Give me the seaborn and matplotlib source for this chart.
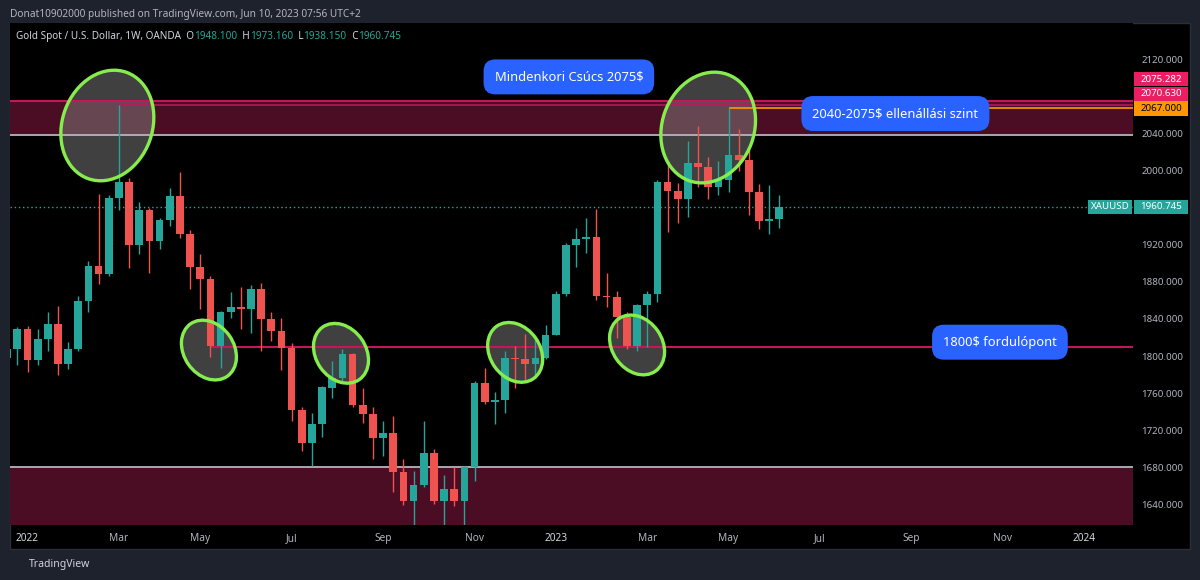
import numpy as np
import pandas as pd
import matplotlib
matplotlib.use("Agg")
import matplotlib.pyplot as plt
import matplotlib.dates as mdates
from matplotlib.patches import Ellipse, Rectangle
from matplotlib.transforms import IdentityTransform, blended_transform_factory
import seaborn as sns

# weekly XAUUSD candles (OANDA), first bar = week of 2021-12-20
start_week = "2021-12-20"
opens = [1798, 1808, 1829, 1796, 1818, 1835, 1791, 1808, 1859, 1897,
         1889, 1970, 1988, 1920, 1958, 1924, 1947, 1973, 1932, 1896,
         1883, 1811, 1847, 1853, 1851, 1872, 1840, 1827, 1809, 1742,
         1706, 1727, 1766, 1776, 1802, 1747, 1738, 1712, 1717, 1675,
         1644, 1661, 1695, 1644, 1657, 1644, 1680, 1771, 1750, 1753,
         1798, 1797, 1792, 1798, 1823, 1867, 1920, 1926, 1928, 1865,
         1864, 1842, 1811, 1855, 1867, 1988, 1978, 1969, 2008, 2004,
         1982, 1990, 2017, 2011, 1977, 1946, 1948.1]
highs = [1812, 1831, 1832, 1829, 1848, 1854, 1815, 1865, 1902, 1975,
         1974, 2070.6, 1992, 1966, 1960, 1949, 1981, 1999, 1936, 1910,
         1886, 1849, 1869, 1874, 1877, 1879, 1847, 1841, 1814, 1745,
         1739, 1768, 1795, 1808, 1803, 1766, 1745, 1730, 1735, 1689,
         1676, 1730, 1700, 1672, 1680, 1682, 1773, 1787, 1761, 1805,
         1811, 1824, 1822, 1834, 1870, 1922, 1938, 1949, 1959, 1890,
         1870, 1847, 1856, 1870, 1990, 2010, 1987, 2032, 2048, 2015,
         2010, 2067, 2045, 2022, 1985, 1984, 1973.16]
lows = [1789, 1790, 1783, 1790, 1805, 1780, 1786, 1806, 1848, 1878,
        1886, 1958, 1895, 1910, 1890, 1915, 1940, 1927, 1872, 1851,
        1799, 1787, 1841, 1829, 1825, 1805, 1816, 1785, 1730, 1698,
        1681, 1713, 1755, 1773, 1745, 1728, 1689, 1692, 1654, 1639,
        1614, 1659, 1641, 1617, 1638, 1616, 1665, 1748, 1727, 1739,
        1766, 1774, 1780, 1797, 1823, 1865, 1896, 1911, 1861, 1853,
        1819, 1808, 1805, 1810, 1858, 1934, 1944, 1950, 1982, 1969,
        1974, 1977, 2000, 1952, 1937, 1932, 1938.15]
closes = [1808, 1829, 1796, 1818, 1835, 1791, 1808, 1859, 1897, 1889,
          1970, 1988, 1920, 1958, 1924, 1947, 1973, 1932, 1896, 1883,
          1811, 1847, 1853, 1851, 1872, 1840, 1827, 1809, 1742, 1706,
          1727, 1767, 1776, 1802, 1747, 1738, 1712, 1717, 1675, 1644,
          1661, 1695, 1644, 1657, 1644, 1680, 1771, 1750, 1753, 1798,
          1797, 1792, 1798, 1823, 1867, 1920, 1926, 1928, 1865, 1864,
          1842, 1811, 1855, 1867, 1988, 1978, 1969, 2008, 2004, 1982,
          1990, 2017, 2011, 1977, 1946, 1948, 1960.745]

# drawn levels
ath_level = 2075.282
mar22_high = 2070.63
may23_high = 2067.0
zone_bottom = 2038
pivot_level = 1810
support_top = 1680
last_price = 1960.745
level_starts = {"mar22": "2022-03-07", "pivot": "2022-05-09", "may23": "2023-05-01"}

price_ticks = [1640, 1680, 1720, 1760, 1800, 1840, 1880, 1920, 2000, 2040, 2120]
time_tick_dates = ["2022-01-03", "2022-03-07", "2022-05-02", "2022-07-04", "2022-09-05",
                   "2022-11-07", "2023-01-02", "2023-03-06", "2023-05-01", "2023-07-03",
                   "2023-09-04", "2023-11-06", "2024-01-01"]
time_tick_labels = ["2022", "Mar", "May", "Jul", "Sep", "Nov", "2023",
                    "Mar", "May", "Jul", "Sep", "Nov", "2024"]

notes = [("Mindenkori Csúcs 2075$", "2023-01-11", 2101),
         ("2040-2075$ ellenállási szint", "2023-08-24", 2061.5),
         ("1800$ fordulópont", "2023-11-04", 1815)]
# highlighted areas: centre date, centre price, width px, height px, angle
circles = [("2022-02-27", 2048.6, 113, 90, 70),
           ("2022-05-08", 1806.5, 64, 50, -55),
           ("2022-08-07", 1803, 64, 50, -55),
           ("2022-12-05", 1804, 64, 50, -55),
           ("2023-02-27", 1812, 64, 50, -55),
           ("2023-04-17", 2046.4, 113, 92, 70)]

BG = "#1e222d"
TEAL = "#26a69a"
RED = "#ef5350"
PINK = "#c2185b"
TAGPINK = "#e91e63"
ORANGE = "#ff9800"
ZONE = "#4a0d23"
GRAY = "#b2b5be"
BLUE = "#2962ff"
LIME = "#86ee4c"

sns.set_theme(style="dark", rc={"axes.facecolor": "black", "figure.facecolor": BG})
plt.rcParams["font.family"] = ["Noto Sans", "DejaVu Sans"]

W, H = 1200, 580
fig = plt.figure(figsize=(12, 5.8), dpi=100)
fig.patch.set_facecolor(BG)
fig.add_artist(Rectangle((10 / W, 31 / H), 1180 / W, 526 / H, transform=fig.transFigure,
                         facecolor="black", edgecolor="#2a2e39", lw=1, zorder=-1))
AX_W = 1123
ax = fig.add_axes([10 / W, 55 / H, AX_W / W, 502 / H])
ax.set_facecolor("black")

d0 = mdates.date2num(pd.Timestamp("2022-01-03"))
ax.set_xlim(d0 - 12.06, d0 + 761.7)
ax.set_ylim(1617.9, 2159.1)
px_price = (2159.1 - 1617.9) / 502
xmax = ax.get_xlim()[1]

df = pd.DataFrame({"date": pd.date_range(start_week, periods=len(opens), freq="W-MON"),
                   "open": opens, "high": highs, "low": lows, "close": closes})
df["x"] = mdates.date2num(df["date"])
colors = np.where(df["close"] >= df["open"], TEAL, RED)
body = (df["close"] - df["open"]).abs().clip(lower=1.2)
ax.vlines(df["x"], df["low"], df["high"], colors=colors, lw=1, zorder=4)
ax.bar(df["x"], body, bottom=df[["open", "close"]].min(axis=1), width=5.3,
       color=colors, linewidth=0, zorder=5)

# zones and levels
ax.axhspan(zone_bottom, ath_level, color=ZONE, lw=0, zorder=1)
ax.axhspan(1600, support_top, color=ZONE, lw=0, zorder=1)
ax.axhline(ath_level, color=PINK, lw=1.5, zorder=3)
ax.axhline(zone_bottom, color=GRAY, lw=1.3, zorder=3)
ax.axhline(support_top, color=GRAY, lw=1.3, zorder=3)
ax.hlines(mar22_high, mdates.date2num(pd.Timestamp(level_starts["mar22"])), xmax,
          color=PINK, lw=1.1, zorder=3)
ax.hlines(pivot_level, mdates.date2num(pd.Timestamp(level_starts["pivot"])), xmax,
          color=PINK, lw=1.5, zorder=3)
ax.hlines(may23_high, mdates.date2num(pd.Timestamp(level_starts["may23"])), xmax,
          color=ORANGE, lw=1.2, zorder=3)
ax.axhline(last_price, color=TEAL, lw=1, ls=(0, (1, 2)), zorder=3)

# ellipses in pixel units around data centres
for dt, pr, w, h, ang in circles:
    cx, cy = ax.transData.transform((mdates.date2num(pd.Timestamp(dt)), pr))
    ax.add_patch(Ellipse((cx, cy), w, h, angle=ang, transform=IdentityTransform(),
                         facecolor="#808080", alpha=0.5, lw=0, zorder=2))
    ax.add_patch(Ellipse((cx, cy), w, h, angle=ang, transform=IdentityTransform(),
                         facecolor="none", edgecolor=LIME, lw=2.4, zorder=6))

for txt, dt, pr in notes:
    ax.text(mdates.date2num(pd.Timestamp(dt)), pr, txt, ha="center", va="center",
            color="white", fontsize=9.3, zorder=8,
            bbox=dict(boxstyle="round,pad=0.85,rounding_size=0.9", fc=BLUE, ec="none"))

# price tags on the right scale
trans = blended_transform_factory(ax.transAxes, ax.transData)


def tag(price, text, color, x0, x1, tcolor="white"):
    h = 7.2 * px_price
    ax.add_patch(Rectangle((x0 / AX_W, price - h), (x1 - x0) / AX_W, 2 * h, transform=trans,
                           facecolor=color, lw=0, clip_on=False, zorder=9))
    ax.text((x0 + x1) / 2 / AX_W, price, text, transform=trans, ha="center", va="center",
            color=tcolor, fontsize=7, zorder=10, clip_on=False)


tag_price = may23_high
for lvl, col, tc in [(may23_high, ORANGE, "black"), (mar22_high, TAGPINK, "white"),
                     (ath_level, TAGPINK, "white")]:
    tag(tag_price, f"{lvl:.3f}", col, 1124, 1178, tc)
    tag_price += 14.7 * px_price
tag(last_price, "XAUUSD", TEAL, 1078, 1122)
tag(last_price, f"{last_price:.3f}", TEAL, 1124, 1178)

# axes
ax.yaxis.tick_right()
ax.set_yticks(price_ticks)
ax.set_yticklabels([f"{v:.3f}" for v in price_ticks])
ax.tick_params(axis="y", length=0, pad=6, labelsize=7, labelcolor=GRAY)
ax.set_xticks([mdates.date2num(pd.Timestamp(d)) for d in time_tick_dates])
ax.set_xticklabels(time_tick_labels)
ax.tick_params(axis="x", length=0, pad=6, labelsize=7.3, labelcolor=GRAY)
for lab in ax.get_xticklabels():
    if lab.get_text().isdigit():
        lab.set_fontweight("bold")
        lab.set_color("#d1d4dc")
ax.grid(False)
for s in ax.spines.values():
    s.set_visible(False)

# header
fig.text(10 / W, 1 - 14 / H, "Donat10902000 published on TradingView.com, Jun 10, 2023 07:56 UTC+2",
         color=GRAY, fontsize=7.3, va="center")
t = fig.text(16 / W, 1 - 36.5 / H, "Gold Spot / U.S. Dollar, 1W, OANDA", color="#d1d4dc",
             fontsize=7.2, va="center")
ohlc = [("  O", "#d1d4dc"), ("1948.100", TEAL), ("  H", "#d1d4dc"), ("1973.160", TEAL),
        ("  L", "#d1d4dc"), ("1938.150", TEAL), ("  C", "#d1d4dc"), ("1960.745", TEAL)]
for s, c in ohlc:
    t = ax.annotate(s, xy=(1, 0.5), xycoords=t, va="center", ha="left", color=c, fontsize=7.2)

fig.text(29 / W, 1 - 564 / H, "TradingView", color="#d1d4dc", fontsize=7.5, va="center")

fig.savefig("out.png", dpi=100, facecolor=BG)
